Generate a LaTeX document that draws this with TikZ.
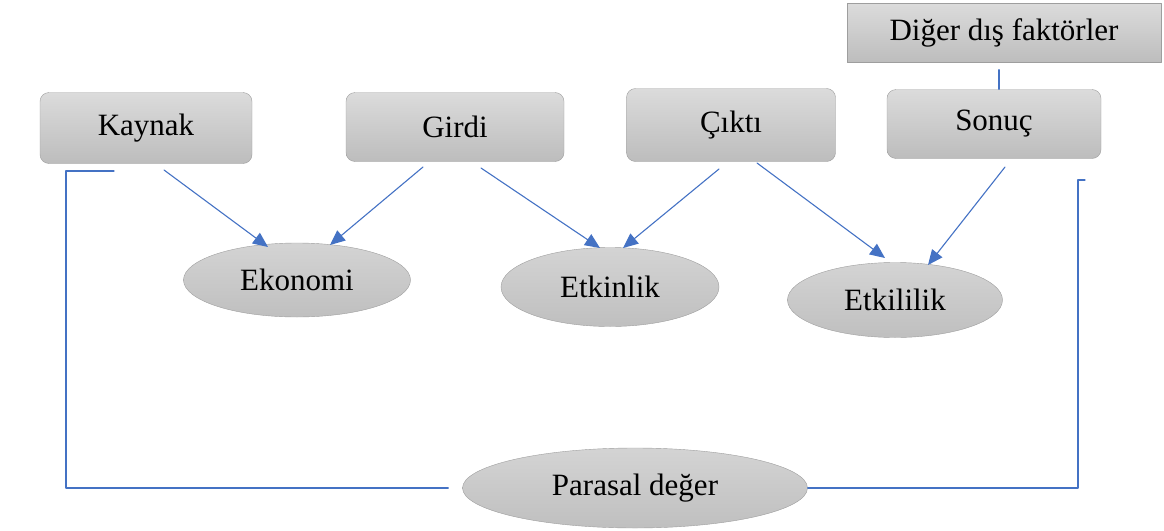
\documentclass[tikz,border=0pt]{standalone}
\usepackage{fontspec}
\setmainfont{Liberation Serif}
\usepackage{tikz}
\usetikzlibrary{arrows.meta,shapes.geometric}
\definecolor{linkblue}{HTML}{4472C4}

\begin{document}
\begin{tikzpicture}[line cap=round,line join=round,x=1pt,y=-1pt,
    >={Triangle[length=15pt,width=13pt]},
    every node/.style={font=\fontsize{31}{36}\selectfont},
    kutu/.style={draw=black!38,rounded corners=9pt,top color=black!14,bottom color=black!26,minimum width=212pt,minimum height=71pt},
    disbox/.style={draw=black!38,top color=black!14,bottom color=black!26,minimum width=314pt,minimum height=59pt},
    elips/.style={ellipse,draw=black!38,top color=black!17,bottom color=black!25,inner sep=0pt},
    ok/.style={->,draw=linkblue,line width=1.1pt},
    cizgi/.style={draw=linkblue,line width=1.1pt}]
                  \useasboundingbox (0,0) rectangle (1164,530);
                  % ust kutular
                  \node[kutu] (kaynak) at (146,128) {Kaynak};
                  \node[kutu,minimum width=218pt,minimum height=69pt] (girdi) at (455,127) {Girdi};
                  \node[kutu,minimum width=209pt,minimum height=73pt] (cikti) at (731,125) {Çıktı};
                  \node[kutu,minimum width=214pt,minimum height=69pt] (sonuc) at (994,124) {Sonuç};
                  \node[disbox] (diger) at (1004,33) {Diğer dış faktörler};
                  % elipsler
                  \node[elips,minimum width=227pt,minimum height=74pt] (ekonomi) at (297,280) {Ekonomi};
                  \node[elips,minimum width=218pt,minimum height=79pt] (etkinlik) at (610,287) {Etkinlik};
                  \node[elips,minimum width=215pt,minimum height=75pt] (etkililik) at (895,300) {Etkililik};
                  \node[elips,minimum width=345pt,minimum height=80pt] (parasal) at (635,488) {Parasal değer};
                  % baglantilar
                  \coordinate (s1) at (164,170);
                  \coordinate (s2) at (423,167);
                  \coordinate (s3) at (481,168);
                  \coordinate (s4) at (719,169);
                  \coordinate (s5) at (757,163);
                  \coordinate (s6) at (1005,167);
                  \coordinate (e1) at (268,247);
                  \coordinate (e2) at (330,245);
                  \coordinate (e3) at (600,248);
                  \coordinate (e4) at (623,248);
                  \coordinate (e5) at (885,258);
                  \coordinate (e6) at (928,265);
                  \draw [ok] (s1) -- (e1);
                  \draw [ok] (s2) -- (e2);
                  \draw [ok] (s3) -- (e3);
                  \draw [ok] (s4) -- (e4);
                  \draw [ok] (s5) -- (e5);
                  \draw [ok] (s6) -- (e6);
                  \draw [cizgi,shorten <=7pt] (diger.south -| 999,0) -- (sonuc.north -| 999,0);
                  % parasal deger cercevesi
                  \coordinate (sol) at (114,171);
                  \coordinate (sag) at (1085,180);
                  \draw [cizgi] (sol) -- (66,171) |- ([xshift=-14pt]parasal.west);
                  \draw [cizgi] (parasal.east) -| (1078,180) -- (sag);
              \end{tikzpicture}
\end{document}
